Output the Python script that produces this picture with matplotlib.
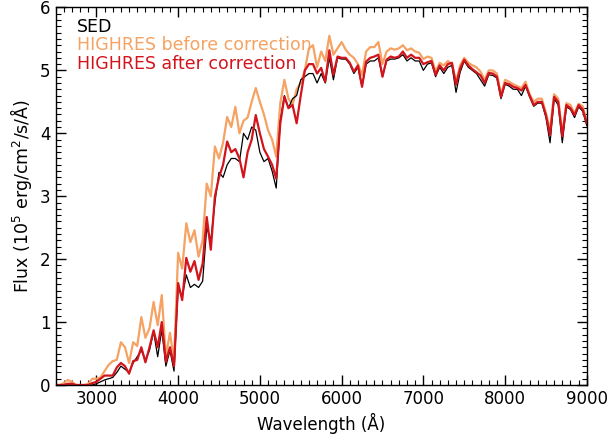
import matplotlib
matplotlib.use("Agg")
import matplotlib.pyplot as plt
from matplotlib.ticker import MultipleLocator

# wavelength grid (Angstrom)
wave = list(range(2500, 9001, 50))

# HIGHRES before correction
flux_before = [0.0, 0.0, 0.03, 0.08, 0.05, 0.0, 0.0, 0.0, 0.02, 0.1,
               0.1, 0.12, 0.22, 0.32, 0.38, 0.4, 0.68, 0.6, 0.35, 0.68,
               0.62, 1.08, 0.75, 0.9, 1.32, 0.95, 1.43, 0.45, 0.83, 0.38,
               2.1, 1.85, 2.57, 2.27, 2.46, 2.04, 2.3, 3.2, 3.0, 3.79,
               3.6, 3.85, 4.26, 4.1, 4.42, 4.0, 4.2, 4.25, 4.5, 4.72,
               4.5, 4.3, 4.05, 3.9, 3.63, 4.48, 4.85, 4.55, 4.45, 4.7,
               4.8, 5.0, 5.35, 5.4, 5.05, 5.3, 5.15, 5.55, 5.25, 5.35,
               5.45, 5.33, 5.25, 5.2, 5.1, 4.93, 5.3, 5.37, 5.37, 5.45,
               5.1, 5.3, 5.35, 5.33, 5.35, 5.4, 5.32, 5.35, 5.3, 5.28,
               5.18, 5.22, 5.2, 4.98, 5.12, 5.08, 5.15, 5.1, 4.82, 5.08,
               5.2, 5.12, 5.08, 5.05, 4.98, 4.85, 5.0, 5.0, 4.95, 4.62,
               4.85, 4.82, 4.78, 4.75, 4.72, 4.82, 4.62, 4.5, 4.55, 4.55,
               4.32, 4.05, 4.62, 4.55, 4.0, 4.48, 4.45, 4.32, 4.47, 4.43,
               4.18]

# HIGHRES after correction
flux_after = [0.0, 0.0, 0.0, 0.02, 0.02, 0.0, 0.0, 0.0, 0.0, 0.03,
              0.05, 0.1, 0.15, 0.15, 0.15, 0.28, 0.35, 0.3, 0.18, 0.38,
              0.4, 0.6, 0.36, 0.6, 0.87, 0.6, 1.0, 0.37, 0.6, 0.3,
              1.62, 1.35, 2.02, 1.8, 1.97, 1.67, 1.93, 2.67, 2.15, 3.0,
              3.3, 3.5, 3.87, 3.7, 3.75, 3.6, 3.3, 3.7, 3.9, 4.29,
              4.0, 3.75, 3.63, 3.5, 3.28, 4.16, 4.58, 4.4, 4.45, 4.16,
              4.6, 5.0, 5.1, 5.1, 4.95, 5.04, 4.82, 5.32, 4.93, 5.22,
              5.2, 5.2, 5.12, 4.98, 5.08, 4.74, 5.14, 5.2, 5.22, 5.25,
              4.9, 5.17, 5.22, 5.2, 5.22, 5.3, 5.2, 5.25, 5.2, 5.2,
              5.1, 5.13, 5.15, 4.93, 5.08, 5.0, 5.1, 5.12, 4.77, 5.03,
              5.17, 5.08, 5.02, 4.97, 4.92, 4.8, 4.96, 4.95, 4.9, 4.58,
              4.8, 4.78, 4.74, 4.72, 4.68, 4.77, 4.6, 4.45, 4.5, 4.5,
              4.29, 3.97, 4.58, 4.5, 3.95, 4.45, 4.4, 4.29, 4.45, 4.38,
              4.16]

# SED
flux_sed = [0.0, 0.0, 0.0, 0.0, 0.0, 0.0, 0.0, 0.0, 0.0, 0.0,
            0.02, 0.05, 0.08, 0.1, 0.12, 0.2, 0.3, 0.25, 0.2, 0.35,
            0.45, 0.55, 0.4, 0.55, 0.85, 0.45, 0.88, 0.3, 0.55, 0.22,
            1.55, 1.4, 1.75, 1.55, 1.6, 1.55, 1.65, 2.5, 2.3, 2.9,
            3.38, 3.3, 3.5, 3.6, 3.6, 3.55, 4.0, 3.9, 4.1, 4.05,
            3.7, 3.55, 3.6, 3.4, 3.13, 4.2, 4.6, 4.4, 4.55, 4.6,
            4.85, 4.9, 4.95, 4.95, 4.8, 4.95, 4.8, 5.2, 4.85, 5.2,
            5.18, 5.18, 5.1, 4.95, 5.05, 4.74, 5.1, 5.15, 5.15, 5.2,
            4.9, 5.15, 5.18, 5.18, 5.2, 5.25, 5.15, 5.2, 5.15, 5.15,
            5.0, 5.1, 5.12, 4.9, 5.05, 4.95, 5.05, 5.08, 4.65, 4.97,
            5.15, 5.05, 5.0, 4.95, 4.85, 4.75, 4.93, 4.92, 4.88, 4.55,
            4.78, 4.75, 4.7, 4.7, 4.6, 4.75, 4.58, 4.43, 4.48, 4.48,
            4.25, 3.85, 4.55, 4.45, 3.85, 4.42, 4.38, 4.25, 4.42, 4.35,
            4.12]

c_before = '#f5a263'
c_after = '#d2141c'

fig = plt.figure(figsize=(6.1, 4.4), dpi=100)
ax = fig.add_axes([0.091, 0.125, 0.871, 0.858])

ax.plot(wave, flux_before, color=c_before, lw=1.6)
ax.plot(wave, flux_sed, color='black', lw=0.9)
ax.plot(wave, flux_after, color=c_after, lw=1.6)

ax.set_xlim(2500, 9000)
ax.set_ylim(0, 6)
ax.xaxis.set_major_locator(MultipleLocator(1000))
ax.xaxis.set_minor_locator(MultipleLocator(100))
ax.yaxis.set_major_locator(MultipleLocator(1))
ax.yaxis.set_minor_locator(MultipleLocator(0.1))
ax.tick_params(which='both', direction='in', top=True, right=True, labelsize=12)
ax.tick_params(which='major', length=7, width=1)
ax.tick_params(which='minor', length=3.5, width=0.8)
for s in ax.spines.values():
    s.set_linewidth(1)

ax.set_xlabel('Wavelength (Å)', fontsize=12)
ax.set_ylabel('Flux (10$^5$ erg/cm$^2$/s/Å)', fontsize=12.5)

# legend written as coloured text
ax.text(0.041, 0.935, 'SED', color='black', fontsize=12.5, transform=ax.transAxes, va='baseline')
ax.text(0.041, 0.887, 'HIGHRES before correction', color=c_before, fontsize=12.5,
        transform=ax.transAxes, va='baseline')
ax.text(0.041, 0.837, 'HIGHRES after correction', color=c_after, fontsize=12.5,
        transform=ax.transAxes, va='baseline')

fig.savefig('out.png', dpi=100)
